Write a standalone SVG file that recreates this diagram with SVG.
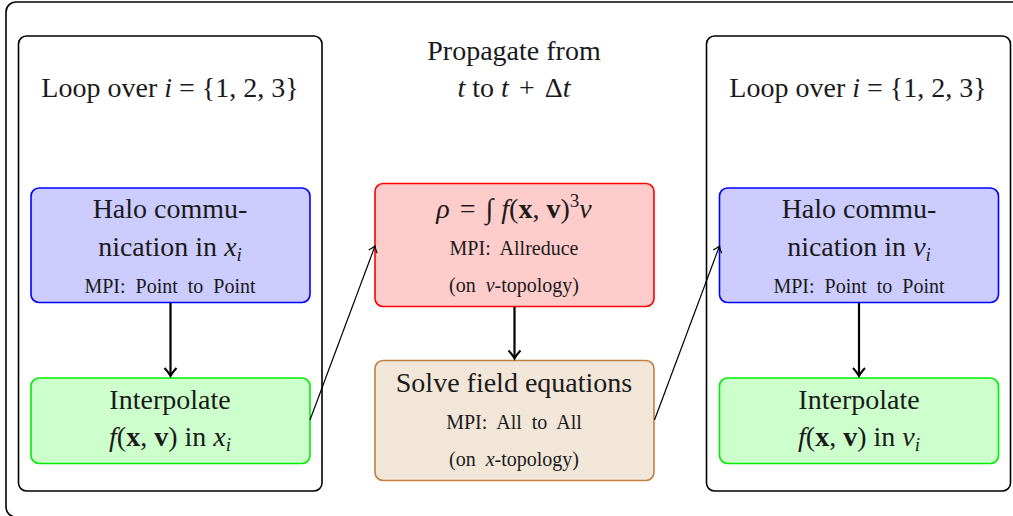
<svg xmlns="http://www.w3.org/2000/svg" width="1013" height="516" viewBox="0 0 1013 516">
<style>
text{font-family:"Liberation Serif","DejaVu Serif","Times New Roman",serif;fill:#1a1a1a;text-anchor:middle}
.big{font-size:28px}
.sm{font-size:20px;word-spacing:5px}
.it{font-style:italic}
.bf{font-weight:bold}
.sub{font-size:19px;font-style:italic}
.frame{fill:none;stroke:#000;stroke-width:1.6}
.blue{fill:#ccccff;stroke:#0000ff;stroke-width:1.6}
.green{fill:#ccffcc;stroke:#00ee00;stroke-width:1.6}
.red{fill:#ffcccc;stroke:#ff0000;stroke-width:1.6}
.tan{fill:#f2e6d9;stroke:#bf8040;stroke-width:1.6}
.thin{stroke:#000;stroke-width:1.2;fill:none;marker-end:url(#ah)}
.thick{stroke:#000;stroke-width:2.2;fill:none;marker-end:url(#ahk)}
</style>
<defs>
<marker id="ah" markerUnits="userSpaceOnUse" viewBox="-8 -6 10 12" markerWidth="10" markerHeight="12" refX="0" refY="0" orient="auto">
<path d="M-6,-4.5 Q-2,-1 0,0 Q-2,1 -6,4.5" fill="none" stroke="#000" stroke-width="1.2"/>
</marker>
<marker id="ahk" markerUnits="userSpaceOnUse" viewBox="-10 -8 12 16" markerWidth="12" markerHeight="16" refX="0" refY="0" orient="auto">
<path d="M-8,-6 Q-3,-1.5 0,0 Q-3,1.5 -8,6" fill="none" stroke="#000" stroke-width="2"/>
</marker>
</defs>

<g id="outer">
<rect class="frame" x="6" y="2" width="1030" height="515" rx="10"/>
</g>

<g id="title">
<text class="big" x="514" y="60">Propagate from</text>
<text class="big" x="514" y="97"><tspan class="it">t</tspan> to <tspan class="it">t</tspan> <tspan dx="3">+</tspan> <tspan dx="3">Δ</tspan><tspan class="it">t</tspan></text>
</g>

<g id="loop-left">
<rect class="frame" x="18.5" y="36" width="303.5" height="455" rx="8"/>
<text class="big" x="170" y="97">Loop over <tspan class="it">i</tspan> = {1, 2, 3}</text>
</g>

<g id="loop-right">
<rect class="frame" x="706.5" y="36" width="304" height="455" rx="8"/>
<text class="big" x="858" y="97">Loop over <tspan class="it">i</tspan> = {1, 2, 3}</text>
</g>

<g id="halo-x">
<rect class="blue" x="31" y="188" width="279" height="114.5" rx="8"/>
<text class="big" x="170" y="218">Halo commu-</text>
<text class="big" x="170" y="256">nication in <tspan class="it">x</tspan><tspan class="sub" dy="5">i</tspan></text>
<text class="sm" x="170" y="293">MPI: Point to Point</text>
</g>

<g id="interp-x">
<rect class="green" x="31" y="378" width="279" height="85.5" rx="8"/>
<text class="big" x="170" y="409">Interpolate</text>
<text class="big" x="170" y="446"><tspan class="it">f</tspan>(<tspan class="bf">x</tspan>, <tspan class="bf">v</tspan>) in <tspan class="it">x</tspan><tspan class="sub" dy="5">i</tspan></text>
</g>

<g id="density">
<rect class="red" x="375" y="183.5" width="279" height="123" rx="8"/>
<text class="big" x="514" y="218"><tspan class="it">ρ</tspan><tspan dx="10">=</tspan><tspan dx="10">∫</tspan><tspan class="it" dx="8">f</tspan>(<tspan class="bf">x</tspan>, <tspan class="bf">v</tspan>)<tspan font-size="19" dy="-11">3</tspan><tspan class="it" dy="11">v</tspan></text>
<text class="sm" x="514" y="255">MPI: Allreduce</text>
<text class="sm" x="514" y="292">(on <tspan class="it">v</tspan>-topology)</text>
</g>

<g id="field">
<rect class="tan" x="375" y="360.5" width="279" height="120" rx="8"/>
<text class="big" x="514" y="392">Solve field equations</text>
<text class="sm" x="514" y="429">MPI: All to All</text>
<text class="sm" x="514" y="466">(on <tspan class="it">x</tspan>-topology)</text>
</g>

<g id="halo-v">
<rect class="blue" x="719.5" y="188" width="279" height="114.5" rx="8"/>
<text class="big" x="859" y="218">Halo commu-</text>
<text class="big" x="859" y="256">nication in <tspan class="it">v</tspan><tspan class="sub" dy="5">i</tspan></text>
<text class="sm" x="859" y="293">MPI: Point to Point</text>
</g>

<g id="interp-v">
<rect class="green" x="719.5" y="378" width="279" height="85.5" rx="8"/>
<text class="big" x="859" y="409">Interpolate</text>
<text class="big" x="859" y="446"><tspan class="it">f</tspan>(<tspan class="bf">x</tspan>, <tspan class="bf">v</tspan>) in <tspan class="it">v</tspan><tspan class="sub" dy="5">i</tspan></text>
</g>

<g id="connectors">
<line class="thick" x1="170.5" y1="303" x2="170.5" y2="376"/>
<line class="thick" x1="514.5" y1="307" x2="514.5" y2="358.5"/>
<line class="thick" x1="859" y1="303" x2="859" y2="376"/>
<line class="thin" x1="310" y1="420" x2="375" y2="246"/>
<line class="thin" x1="654.5" y1="420" x2="719.5" y2="246"/>
</g>
</svg>
